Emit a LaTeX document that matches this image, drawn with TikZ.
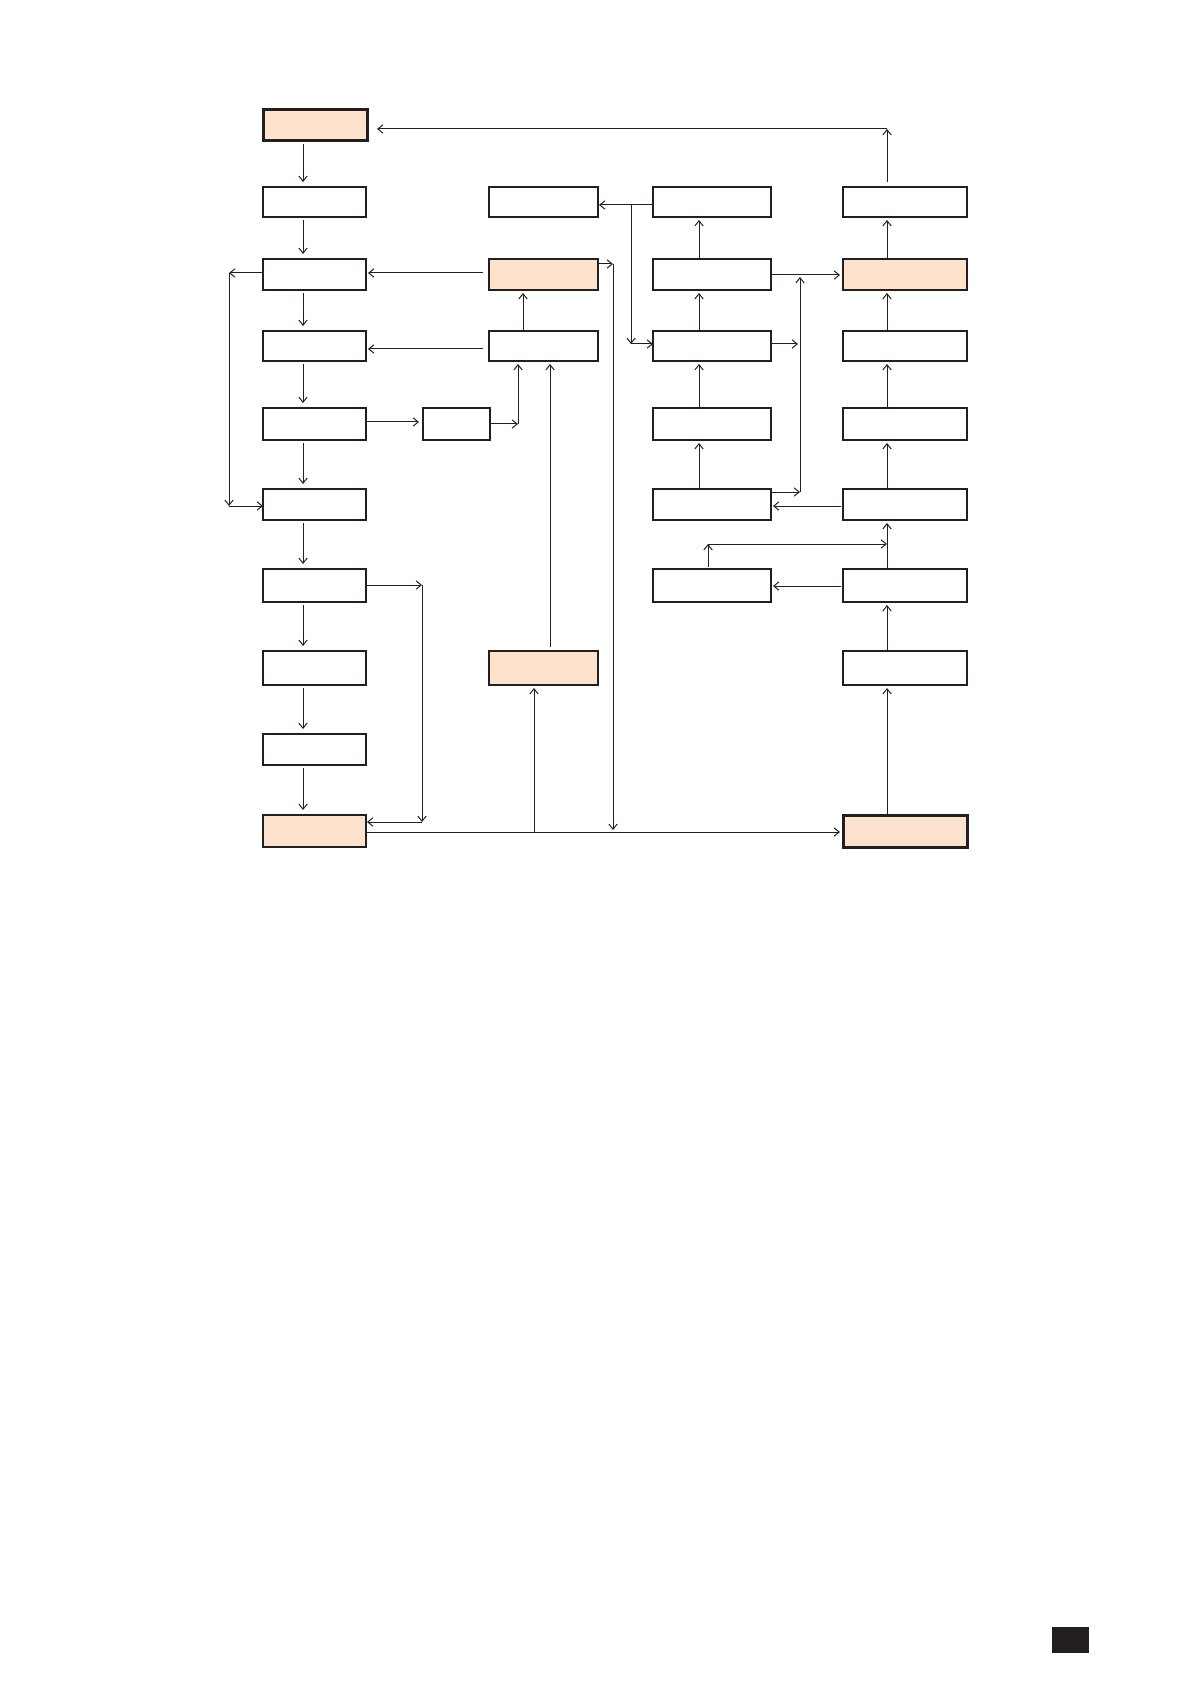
\documentclass[tikz,border=0pt]{standalone}
\usetikzlibrary{arrows.meta}
\definecolor{ink}{RGB}{35,31,32}
\definecolor{peach}{RGB}{253,226,205}
\tikzset{
  box/.style={draw=ink,line width=0.6pt,fill=white,inner sep=0pt,outer sep=0pt},
  hot/.style={fill=peach},
  heavy/.style={line width=1.5pt},
  mid/.style={line width=1.1pt},
  arr/.style={draw=ink,line width=0.5pt,-{Straight Barb[length=2.6pt,width=4.2pt]}},
  pagebox/.style={fill=ink,draw=none,inner sep=0pt,outer sep=0pt}
}
% \mybox[style]{name}{x1}{y1}{x2}{y2}
\newcommand\mybox[6][]{\node[box,#1,minimum width={(#5-#3)*0.5pt},minimum height={(#6-#4)*0.5pt}] (#2) at ({(#3+#5)/2},{(#4+#6)/2}) {};}
\begin{document}
\begin{tikzpicture}[x=0.5pt,y=-0.5pt]
\useasboundingbox (0,0) rectangle (1191,1684);
% column coordinates
\coordinate (c1) at (303,0);
\coordinate (c2) at (523,0);
\coordinate (c3) at (699,0);
\coordinate (c4) at (887,0);
\coordinate (k1) at (550,0);
% boxes
\mybox[hot,heavy]{A}{263}{110}{367}{141}
\mybox{B}{263}{187}{366}{217}
\mybox{C}{263}{259}{366}{290}
\mybox{D}{263}{331}{366}{361}
\mybox{E}{263}{408}{366}{440}
\mybox{F}{423}{408}{490}{440}
\mybox{J}{263}{489}{366}{520}
\mybox{L}{263}{569}{366}{602}
\mybox{M}{263}{651}{366}{685}
\mybox{N}{263}{734}{366}{765}
\mybox[hot]{O}{263}{815}{366}{847}
\mybox{G}{489}{187}{598}{217}
\mybox[hot]{H}{489}{259}{598}{290}
\mybox{I}{489}{331}{598}{361}
\mybox[hot,mid]{K}{489}{651}{598}{685}
\mybox{P}{653}{187}{771}{217}
\mybox{Q}{653}{259}{771}{290}
\mybox{R}{653}{331}{771}{361}
\mybox{S}{653}{408}{771}{440}
\mybox{X}{653}{489}{771}{520}
\mybox{Y}{653}{569}{771}{602}
\mybox{T}{843}{187}{967}{217}
\mybox[hot]{U}{843}{259}{967}{290}
\mybox{V}{843}{331}{967}{361}
\mybox{W}{843}{408}{967}{440}
\mybox{Z}{843}{489}{967}{520}
\mybox{AA}{843}{569}{967}{602}
\mybox{AB}{843}{651}{967}{685}
\mybox[hot,heavy]{AC}{843}{815}{967}{847}
\node[pagebox,minimum width=18.5pt,minimum height=13pt] (pgnum) at (1070.5,1640) {};
% column 1 chain
\foreach \a/\b in {A/B,B/C,C/D,D/E,E/J,J/L,L/M,M/N,N/O}
  \draw[arr,shorten <=1.5pt,shorten >=2.5pt] (\a.south -| c1) -- (\b.north -| c1);
% column 3 chain
\foreach \a/\b in {Q/P,R/Q,S/R,X/S}
  \draw[arr,shorten >=1.5pt] (\a.north -| c3) -- (\b.south -| c3);
% column 4 chain
\foreach \a/\b in {U/T,V/U,W/V,Z/W,AA/Z,AB/AA,AC/AB}
  \draw[arr,shorten >=1.5pt] (\a.north -| c4) -- (\b.south -| c4);
% top return T -> A
\coordinate (tr) at (887,129);
\draw[arr,shorten <=2.5pt] (T.north -| tr) -- (tr);
\draw[arr,shorten >=5pt] (tr) -- (A.east |- tr);
% P -> G and down to R
\coordinate (pgl) at (631,205);
\coordinate (prl) at (631,344);
\draw[arr,shorten >=0.5pt] (P.west |- pgl) -- (G.east |- pgl);
\draw[arr] (pgl) -- (prl);
\draw[arr] (prl) -- (R.west |- prl);
% H -> C
\coordinate (hc) at (0,273);
\draw[arr,shorten <=3pt,shorten >=1pt] (H.west |- hc) -- (C.east |- hc);
% C left loop to J
\coordinate (cl1) at (229,273);
\coordinate (cl2) at (229,506);
\draw[arr] (C.west |- cl1) -- (cl1);
\draw[arr] (cl1) -- (cl2);
\draw[arr] (cl2) -- (J.west |- cl2);
% H right, down to bottom line
\coordinate (hr1) at (613,264);
\coordinate (hr2) at (613,832);
\draw[arr] (H.east |- hr1) -- (hr1);
\draw[arr,shorten >=1pt] (hr1) -- (hr2);
% I -> H
\draw[arr,shorten >=1.5pt] (I.north -| c2) -- (H.south -| c2);
% I -> D
\coordinate (id) at (0,349);
\draw[arr,shorten <=3pt,shorten >=1pt] (I.west |- id) -- (D.east |- id);
% E -> F
\coordinate (ef) at (0,422);
\draw[arr,shorten >=2pt] (E.east |- ef) -- (F.west |- ef);
% F -> I
\coordinate (fi) at (518,424);
\draw[arr] (F.east |- fi) -- (fi);
\draw[arr,shorten >=1.5pt] (fi) -- (I.south -| fi);
% K -> I
\draw[arr,shorten <=2pt,shorten >=1.5pt] (K.north -| k1) -- (I.south -| k1);
% L right loop to O
\coordinate (lr1) at (422,585);
\coordinate (lr2) at (422,822);
\draw[arr] (L.east |- lr1) -- (lr1);
\draw[arr] (lr1) -- (lr2);
\draw[arr,shorten >=0.5pt] (lr2) -- (O.east |- lr2);
% bottom line O -> AC, branch up to K
\coordinate (bl) at (0,832);
\coordinate (bk) at (534,832);
\draw[arr,shorten >=1.5pt] (O.east |- bl) -- (AC.west |- bl);
\draw[arr,shorten >=1.5pt] (bk) -- (K.south -| bk);
% Q -> U
\coordinate (qu) at (0,275);
\draw[arr,shorten >=1.5pt] (Q.east |- qu) -- (U.west |- qu);
% R right
\coordinate (rr) at (798,344);
\draw[arr] (R.east |- rr) -- (rr);
% X right and up
\coordinate (xr) at (800,492);
\coordinate (xu) at (800,277);
\draw[arr] (X.east |- xr) -- (xr);
\draw[arr] (xr) -- (xu);
% Z -> X
\coordinate (zx) at (0,506);
\draw[arr,shorten <=1pt,shorten >=1pt] (Z.west |- zx) -- (X.east |- zx);
% AA -> Y
\coordinate (ay) at (0,586);
\draw[arr,shorten <=1pt,shorten >=1pt] (AA.west |- ay) -- (Y.east |- ay);
% Y up and right to the AA-Z line
\coordinate (yu1) at (708,544);
\coordinate (yu2) at (887,544);
\draw[arr,shorten <=1pt] (Y.north -| yu1) -- (yu1);
\draw[arr] (yu1) -- (yu2);
\end{tikzpicture}
\end{document}
